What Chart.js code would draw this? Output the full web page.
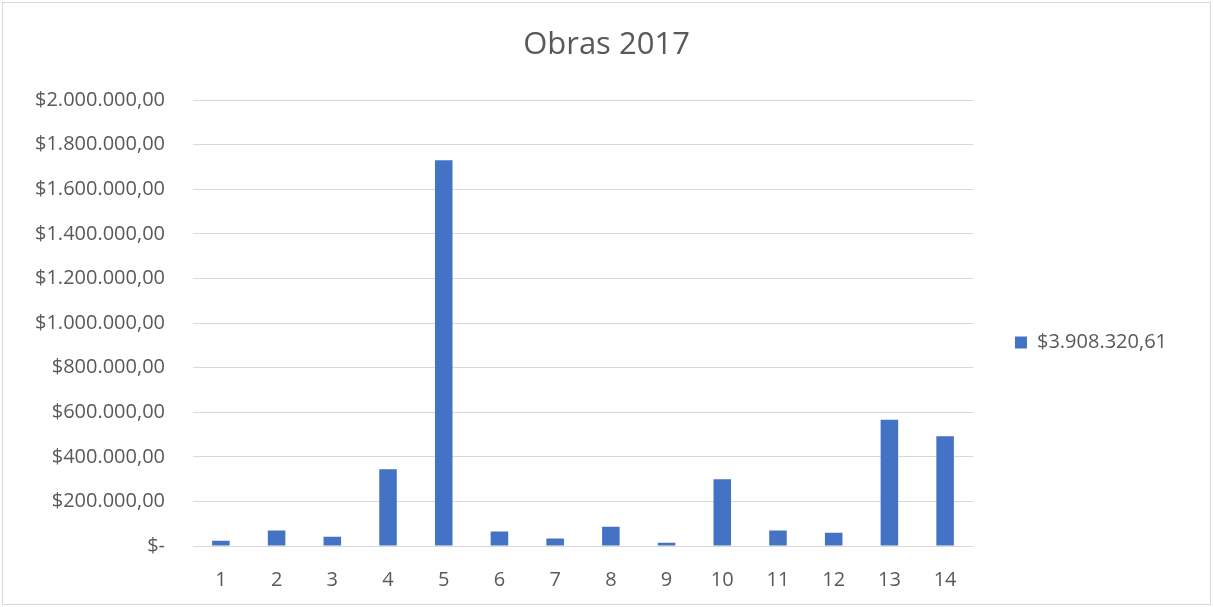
<!DOCTYPE html>
<html lang="es">
<head>
    <meta charset="UTF-8">
    <title>Obras 2017</title>
    <script src="https://cdn.jsdelivr.net/npm/chart.js"></script>
    <style>
        body {
            margin: 0;
            padding: 0;
            background: #fff;
        }
        .chart-box {
            position: absolute;
            left: 2px;
            top: 2px;
            width: 1209px;
            height: 603px;
            border: 1px solid #d9d9d9;
            box-sizing: border-box;
        }
        canvas {
            display: block;
        }
    </style>
</head>
<body>
    <div class="chart-box">
        <canvas id="obrasChart"></canvas>
    </div>

    <script>
        // Obras 1..14, montos
        const obras = ['1', '2', '3', '4', '5', '6', '7', '8', '9', '10', '11', '12', '13', '14'];
        const montos = [23400, 70000, 41400, 344600, 1730600, 65300, 33800, 86500, 14400, 299500, 70000, 59500, 566700, 491900];
        const serieNombre = '$3.908.320,61';
        const yTicks = ['$-', '$200.000,00', '$400.000,00', '$600.000,00', '$800.000,00', '$1.000.000,00',
            '$1.200.000,00', '$1.400.000,00', '$1.600.000,00', '$1.800.000,00', '$2.000.000,00'];

        const gris = '#d9d9d9';
        const texto = '#595959';
        Chart.defaults.font.family = '"Open Sans", sans-serif';
        Chart.defaults.color = texto;

        // título centrado en todo el gráfico y leyenda separada del área de trazado
        const ajustes = {
            id: 'ajustes',
            afterLayout(chart) {
                const t = chart.titleBlock;
                const dx = chart.width / 2 - (t.left + t.right) / 2;
                t.left += dx;
                t.right += dx;
                const l = chart.legend;
                l.left += 32;
                l.right += 32;
                l.top += 39;
                l.bottom += 39;
            }
        };

        const ctx = document.getElementById('obrasChart').getContext('2d');
        new Chart(ctx, {
            type: 'bar',
            data: {
                labels: obras,
                datasets: [{
                    label: serieNombre,
                    data: montos,
                    backgroundColor: '#4472C4',
                    barPercentage: 0.9,
                    categoryPercentage: 0.35
                }]
            },
            options: {
                responsive: true,
                maintainAspectRatio: false,
                animation: false,
                layout: { padding: { left: 4, right: 65, top: 0, bottom: 0 } },
                plugins: {
                    title: {
                        display: true,
                        text: 'Obras 2017',
                        font: { size: 31, weight: 'normal' },
                        color: texto,
                        padding: { top: 24, bottom: 36 }
                    },
                    legend: {
                        position: 'right',
                        labels: {
                            boxWidth: 12,
                            boxHeight: 12,
                            font: { size: 20 },
                            color: texto,
                            padding: 10
                        }
                    },
                    tooltip: { enabled: false }
                },
                scales: {
                    x: {
                        grid: { display: false, drawTicks: false },
                        border: { color: gris, width: 1 },
                        ticks: { font: { size: 20 }, color: texto, padding: 22 },
                        afterFit(scale) { scale.height -= 10; }
                    },
                    y: {
                        min: 0,
                        max: 2000000,
                        grid: { color: gris, lineWidth: 1, drawTicks: false },
                        border: { display: false },
                        ticks: {
                            stepSize: 200000,
                            font: { size: 20 },
                            color: texto,
                            padding: 28,
                            callback: (v, i) => yTicks[i]
                        }
                    }
                }
            },
            plugins: [ajustes]
        });
    </script>
</body>
</html>
